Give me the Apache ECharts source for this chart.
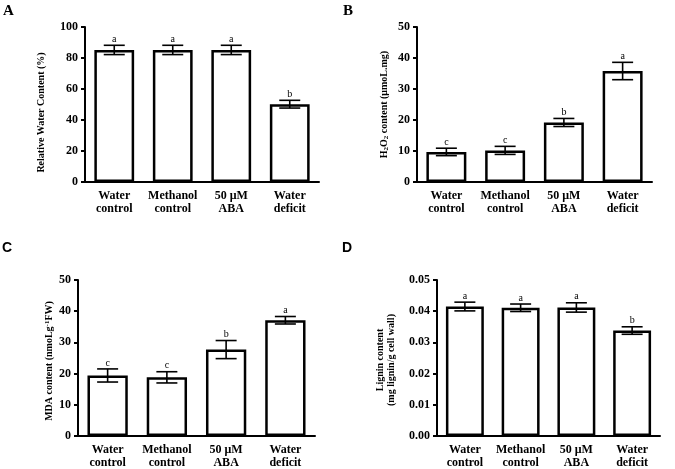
<!DOCTYPE html>
<html><head><meta charset="utf-8">
<script src="https://cdn.jsdelivr.net/npm/echarts@6/dist/echarts.min.js"></script>
<style>html,body{margin:0;padding:0;background:#fff}#c{width:675px;height:469px}</style>
</head><body><div id="c"></div>
<script>
const categories = ['Water\ncontrol', 'Methanol\ncontrol', '50 μM\nABA', 'Water\ndeficit'];

const rwcMean = [85.2, 85.2, 85.2, 50.2];
const rwcErr = [3, 3, 3, 2.5];
const rwcLetters = ['a', 'a', 'a', 'b'];

const h2o2Mean = [9.7, 10.2, 19.2, 35.8];
const h2o2Err = [1.2, 1.3, 1.3, 2.8];
const h2o2Letters = ['c', 'c', 'b', 'a'];

const mdaMean = [19.4, 18.8, 27.7, 37.1];
const mdaErr = [2.1, 1.8, 2.9, 1.2];
const mdaLetters = ['c', 'c', 'b', 'a'];

const ligninMean = [0.0415, 0.0411, 0.0412, 0.0338];
const ligninErr = [0.0014, 0.0012, 0.0015, 0.0012];
const ligninLetters = ['a', 'a', 'a', 'b'];

const yTicksA = [0, 100, 20];
const yTicksB = [0, 50, 10];
const yTicksC = [0, 50, 10];
const yTicksD = [0, 0.05, 0.01];

const serif = '"Liberation Serif", "Times New Roman", serif';
const sans = '"Liberation Sans", Arial, sans-serif';

const panels = [
  {mean: rwcMean, err: rwcErr, letters: rwcLetters, ticks: yTicksA, grid: {left: 85, right: 356, top: 27, bottom: 287},
   name: 'Relative Water Content (%)', gap: 38, dec: 0, pad: [0, 16, 0, 0]},
  {mean: h2o2Mean, err: h2o2Err, letters: h2o2Letters, ticks: yTicksB, grid: {left: 417, right: 23, top: 27, bottom: 287},
   name: 'H{sub|2}O{sub|2} content (μmoL.mg)', gap: 27, dec: 0, pad: [0, 0, 0, 0]},
  {mean: mdaMean, err: mdaErr, letters: mdaLetters, ticks: yTicksC, grid: {left: 78, right: 360, top: 280, bottom: 32},
   name: 'MDA content (nmoLg{sup|-1}FW)', gap: 22, dec: 0, pad: [0, 6, 0, 0]},
  {mean: ligninMean, err: ligninErr, letters: ligninLetters, ticks: yTicksD, grid: {left: 437, right: 15, top: 280, bottom: 32},
   name: 'Lignin content\n(mg lignin/g cell wall)', gap: 40, dec: 2, pad: [0, 4, 0, 0]}
];

const grid = [], xAxis = [], yAxis = [], series = [];
panels.forEach((p, i) => {
  grid.push(Object.assign({containLabel: false}, p.grid));
  xAxis.push({
    type: 'category', gridIndex: i, data: categories,
    axisLine: {lineStyle: {color: '#000', width: 2}},
    axisTick: {alignWithLabel: true, length: 4, lineStyle: {color: '#000', width: 2}},
    axisLabel: {color: '#000', fontFamily: serif, fontWeight: 'bold', fontSize: 12, lineHeight: 13, margin: 7, interval: 0}
  });
  yAxis.push({
    type: 'value', gridIndex: i, min: p.ticks[0], max: p.ticks[1], interval: p.ticks[2],
    splitLine: {show: false},
    axisLine: {show: true, lineStyle: {color: '#000', width: 2}},
    axisTick: {show: true, length: 4, lineStyle: {color: '#000', width: 2}},
    axisLabel: {color: '#000', fontFamily: serif, fontWeight: 'bold', fontSize: 12, margin: 7,
      formatter: v => v.toFixed(p.dec)},
    name: p.name, nameLocation: 'middle', nameGap: p.gap,
    nameTextStyle: {color: '#000', fontFamily: serif, fontWeight: 'bold', fontSize: 10, lineHeight: 11, padding: p.pad,
      rich: {
        sub: {fontSize: 7, verticalAlign: 'bottom', fontFamily: serif, fontWeight: 'bold', color: '#000', padding: [4, 0, 0, 0]},
        sup: {fontSize: 7, verticalAlign: 'top', fontFamily: serif, fontWeight: 'bold', color: '#000', padding: [0, 0, 4, 0]}
      }}
  });
  series.push({
    type: 'bar', xAxisIndex: i, yAxisIndex: i, data: p.mean, barWidth: '68%',
    itemStyle: {color: '#fff', borderColor: '#000', borderWidth: 2.5},
    silent: true, animation: false
  });
  series.push({
    type: 'custom', xAxisIndex: i, yAxisIndex: i, animation: false, silent: true, z: 5,
    data: p.mean.map((m, k) => [k, m - p.err[k], m + p.err[k], p.letters[k]]),
    renderItem: (params, api) => {
      const x = api.coord([api.value(0), 0])[0];
      const lo = api.coord([api.value(0), api.value(1)])[1];
      const hi = api.coord([api.value(0), api.value(2)])[1];
      const hw = 10.5;
      const st = {stroke: '#000', lineWidth: 1.6};
      return {type: 'group', children: [
        {type: 'line', shape: {x1: x, y1: lo, x2: x, y2: hi}, style: st},
        {type: 'line', shape: {x1: x - hw, y1: lo, x2: x + hw, y2: lo}, style: st},
        {type: 'line', shape: {x1: x - hw, y1: hi, x2: x + hw, y2: hi}, style: st},
        {type: 'text', style: {text: p.letters[params.dataIndex], x: x, y: hi - 1, align: 'center', verticalAlign: 'bottom',
          font: '10px ' + serif, fill: '#000'}}
      ]};
    }
  });
});

const chart = echarts.init(document.getElementById('c'), null, {renderer: 'canvas'});
chart.setOption({
  backgroundColor: '#fff',
  animation: false,
  grid, xAxis, yAxis, series,
  graphic: [
    {type: 'text', left: 3, top: 4, style: {text: 'A', font: 'bold 15px ' + serif, fill: '#000'}},
    {type: 'text', left: 343, top: 4, style: {text: 'B', font: 'bold 15px ' + serif, fill: '#000'}},
    {type: 'text', left: 2, top: 241, style: {text: 'C', font: 'bold 14px ' + sans, fill: '#000'}},
    {type: 'text', left: 342, top: 241, style: {text: 'D', font: 'bold 14px ' + sans, fill: '#000'}}
  ]
});
</script></body></html>
